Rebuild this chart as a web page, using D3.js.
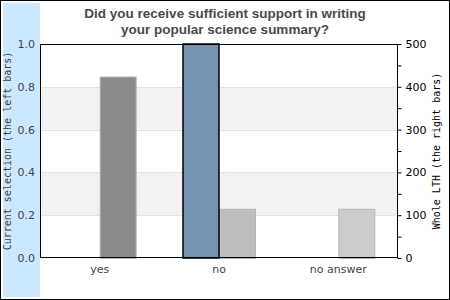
<!DOCTYPE html>
<html>
<head>
<meta charset="utf-8">
<script src="https://cdn.jsdelivr.net/npm/d3@7"></script>
<style>
  body { margin: 0; }
  svg { display: block; }
</style>
</head>
<body>
<div id="chart"></div>
<script>
// chart data
var categories = ["yes", "no", "no answer"];
var currentValues = [0, 1.0, 0];          // left bars, share of current selection
var wholeValues = [424, 115, 115];        // right bars, whole LTH count
var wholeColors = ["#8a8a8a", "#bebebe", "#cccccc"];
var leftTicks = [0, 0.2, 0.4, 0.6, 0.8, 1.0];
var rightTicks = [0, 100, 200, 300, 400, 500];
var titleLines = ["Did you receive sufficient support in writing", "your popular science summary?"];

var W = 450, H = 300;
var margin = { top: 44, right: 52, bottom: 42, left: 40 },
    width = W - margin.left - margin.right,
    height = H - margin.top - margin.bottom;

var svg = d3.select("#chart")
    .append("svg")
    .attr("width", W)
    .attr("height", H);

// background and side strip
svg.append("rect")
    .attr("x", 0).attr("y", 0).attr("width", W).attr("height", H)
    .attr("fill", "white");
svg.append("rect")
    .attr("x", 3).attr("y", 3).attr("width", 37).attr("height", H - 6)
    .attr("fill", "#cce8fe");
svg.append("rect")
    .attr("x", 0.5).attr("y", 0.5).attr("width", W - 1).attr("height", H - 1)
    .attr("fill", "none").attr("stroke", "black");

// title
svg.append("text")
    .attr("x", 225)
    .attr("text-anchor", "middle")
    .style("font-family", "'Liberation Sans', Arial, sans-serif")
    .style("font-weight", "bold")
    .style("font-size", "13.5px")
    .attr("fill", "#4a4a4a")
    .selectAll("tspan")
    .data(titleLines)
    .enter().append("tspan")
    .attr("x", 225)
    .attr("y", function (d, i) { return 18 + i * 16; })
    .text(function (d) { return d; });

var g = svg.append("g")
    .attr("transform", "translate(" + margin.left + "," + margin.top + ")");

var x = d3.scaleBand()
    .domain(categories)
    .range([0, width]);

var yL = d3.scaleLinear().domain([0, 1]).range([height, 0]);
var yR = d3.scaleLinear().domain([0, 500]).range([height, 0]);

// alternating bands
var bands = [[0.2, 0.4], [0.6, 0.8]];
g.selectAll(".band")
    .data(bands)
    .enter().append("rect")
    .attr("x", 0)
    .attr("width", width)
    .attr("y", function (d) { return yL(d[1]); })
    .attr("height", function (d) { return yL(d[0]) - yL(d[1]); })
    .attr("fill", "#f2f2f2");

// grid lines
g.selectAll(".grid")
    .data(leftTicks.slice(1, -1))
    .enter().append("line")
    .attr("x1", 0).attr("x2", width)
    .attr("y1", function (d) { return Math.round(yL(d)) + 0.5; })
    .attr("y2", function (d) { return Math.round(yL(d)) + 0.5; })
    .attr("stroke", "#e2e2e2");

var barW = 36;

// right bars (whole LTH)
g.selectAll(".rbar")
    .data(wholeValues)
    .enter().append("rect")
    .attr("x", function (d, i) { return x(categories[i]) + x.bandwidth() / 2 + 0.5; })
    .attr("y", function (d) { return yR(d) + 0.5; })
    .attr("width", barW)
    .attr("height", function (d) { return height - yR(d); })
    .attr("fill", function (d, i) { return wholeColors[i]; })
    .attr("stroke", "#b4b4b4");

// left bars (current selection), skip empty ones
var leftData = categories.map(function (c, i) { return { cat: c, v: currentValues[i] }; })
    .filter(function (d) { return d.v > 0; });
g.selectAll(".lbar")
    .data(leftData)
    .enter().append("rect")
    .attr("x", function (d) { return x(d.cat) + x.bandwidth() / 2 - barW; })
    .attr("y", function (d) { return yL(d.v); })
    .attr("width", barW)
    .attr("height", function (d) { return height - yL(d.v); })
    .attr("fill", "#7393ae")
    .attr("stroke", "black")
    .attr("stroke-width", 1.5);

// frame
g.append("rect")
    .attr("x", 0.5).attr("y", 0.5)
    .attr("width", width - 1).attr("height", height - 1)
    .attr("fill", "none")
    .attr("stroke", "black");

// left axis labels
var leftAxis = g.append("g")
    .call(d3.axisLeft(yL).tickValues(leftTicks).tickFormat(d3.format(".1f")).tickSize(0).tickPadding(5));
leftAxis.select(".domain").remove();
leftAxis.selectAll("text")
    .style("font-family", "'DejaVu Sans', sans-serif")
    .style("font-size", "11px")
    .attr("fill", "#444");

// right axis with minor ticks
var rightAxis = g.append("g")
    .attr("transform", "translate(" + (width - 0.5) + ",0)")
    .call(d3.axisRight(yR).ticks(10).tickSize(4).tickPadding(4)
        .tickFormat(function (d) { return rightTicks.indexOf(d) >= 0 ? d : ""; }));
rightAxis.select(".domain").remove();
rightAxis.selectAll("line").attr("stroke", "black");
rightAxis.selectAll("text")
    .style("font-family", "'DejaVu Sans', sans-serif")
    .style("font-size", "11px")
    .attr("fill", "black");

// category labels
var xAxis = g.append("g")
    .attr("transform", "translate(0," + height + ")")
    .call(d3.axisBottom(x).tickSize(0).tickPadding(7));
xAxis.select(".domain").remove();
xAxis.selectAll("text")
    .style("font-family", "'DejaVu Sans', sans-serif")
    .style("font-size", "11px")
    .attr("fill", "#444");

// axis titles
svg.append("text")
    .attr("transform", "translate(11," + (margin.top + height / 2) + ") rotate(-90)")
    .attr("text-anchor", "middle")
    .style("font-family", "'DejaVu Sans Mono', monospace")
    .style("font-size", "10px")
    .attr("fill", "#444")
    .text("Current selection (the left bars)");

svg.append("text")
    .attr("transform", "translate(440," + (margin.top + height / 2) + ") rotate(-90)")
    .attr("text-anchor", "middle")
    .style("font-family", "'DejaVu Sans Mono', monospace")
    .style("font-size", "10px")
    .attr("fill", "black")
    .text("Whole LTH (the right bars)");
</script>
</body>
</html>
